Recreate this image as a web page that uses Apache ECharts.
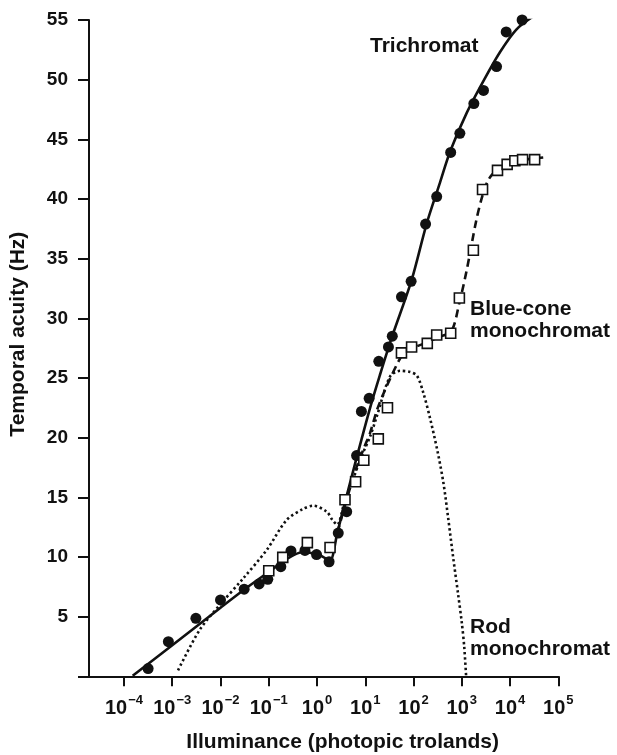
<!DOCTYPE html>
<html><head><meta charset="utf-8">
<script src="https://cdn.jsdelivr.net/npm/echarts@6/dist/echarts.min.js"></script>
<style>html,body{margin:0;padding:0;background:#fff}#c{width:617px;height:755px}</style>
</head><body><div id="c"></div>
<script>
// x values are log10(illuminance in photopic trolands)
const xTickExponents = [-4, -3, -2, -1, 0, 1, 2, 3, 4, 5];
const yTickValues = [0, 5, 10, 15, 20, 25, 30, 35, 40, 45, 50, 55];

// Trichromat data (filled circles)
const triLogL = [-3.50, -3.08, -2.51, -2.00, -1.51, -1.20, -1.02, -0.75, -0.54, -0.25, -0.01, 0.25, 0.44, 0.615, 0.82, 0.92, 1.08, 1.28, 1.48, 1.56, 1.75, 1.95, 2.25, 2.48, 2.77, 2.96, 3.25, 3.45, 3.72, 3.92, 4.25, 4.50, 4.72];
const triHz   = [0.65, 2.9, 4.86, 6.4, 7.3, 7.74, 8.13, 9.19, 10.5, 10.55, 10.2, 9.6, 12.0, 13.8, 18.5, 22.2, 23.3, 26.4, 27.6, 28.5, 31.8, 33.1, 37.9, 40.2, 43.9, 45.5, 48.0, 49.1, 51.1, 54.0, 55.0, 55.4, 55.7];

// Blue-cone monochromat data (open squares)
const blueLogL = [-1.00, -0.71, -0.20, 0.27, 0.58, 0.80, 0.97, 1.27, 1.46, 1.75, 1.96, 2.285, 2.48, 2.77, 2.95, 3.24, 3.43, 3.74, 3.94, 4.10, 4.26, 4.51];
const blueHz   = [8.85, 9.97, 11.2, 10.8, 14.8, 16.3, 18.1, 19.9, 22.5, 27.1, 27.6, 27.9, 28.6, 28.75, 31.7, 35.7, 40.8, 42.4, 42.9, 43.2, 43.3, 43.3];

// Trichromat curve (solid)
const triCurveLogL = [-3.82, -3.0, -2.0, -1.5, -1.0, -0.6, -0.3, 0.0, 0.15, 0.27, 0.42, 0.6, 0.82, 1.1, 1.3, 1.55, 1.96, 2.27, 2.55, 2.76, 3.1, 3.45, 3.79, 4.13, 4.48, 4.76];
const triCurveHz   = [0.05, 2.6, 5.75, 7.3, 8.75, 9.9, 10.4, 10.25, 9.95, 9.7, 12.0, 14.9, 18.3, 22.5, 25.2, 28.4, 33.2, 37.9, 41.4, 44.0, 47.2, 49.9, 52.3, 54.2, 55.3, 55.85];

// Blue-cone monochromat curve (dashed)
const blueCurveLogL = [0.42, 0.6, 0.8, 0.99, 1.1, 1.25, 1.4, 1.51, 1.69, 1.8, 1.96, 2.3, 2.5, 2.78, 2.95, 3.1, 3.3, 3.43, 3.55, 3.74, 4.0, 4.3, 4.76];
const blueCurveHz   = [12.0, 14.6, 17.3, 19.3, 20.4, 22.4, 23.9, 24.9, 26.4, 27.1, 27.5, 28.0, 28.4, 28.9, 31.3, 34.0, 38.2, 40.3, 41.6, 42.5, 43.0, 43.3, 43.5];

// Rod monochromat curve (dotted)
const rodCurveLogL = [-2.88, -2.43, -2.01, -1.53, -1.04, -0.63, -0.3, -0.08, 0.2, 0.32, 0.42, 0.55, 0.72, 0.92, 1.1, 1.24, 1.51, 1.72, 1.93, 2.07, 2.2, 2.35, 2.5, 2.62, 2.72, 2.82, 2.92, 3.0, 3.05, 3.09];
const rodCurveHz   = [0.5, 3.9, 6.0, 8.2, 10.6, 13.1, 14.0, 14.3, 13.8, 13.1, 12.7, 14.3, 16.2, 18.4, 20.1, 21.8, 25.1, 25.6, 25.5, 25.2, 23.8, 21.5, 18.8, 16.2, 13.2, 10.0, 7.0, 4.5, 2.5, 0.0];

const zip = (a, b) => a.map((v, i) => [v, b[i]]);
const FONT = '"Liberation Sans", Arial, Helvetica, sans-serif';
const BLACK = '#111';

const chart = echarts.init(document.getElementById('c'), null, { renderer: 'canvas' });
chart.setOption({
  animation: false,
  backgroundColor: '#fff',
  grid: { left: 89, right: 58.7, top: 20, bottom: 78.7, containLabel: false, outerBoundsMode: 'none' },
  xAxis: {
    type: 'value', min: -4.725, max: 5,
    name: 'Illuminance (photopic trolands)', nameLocation: 'middle', nameGap: 55,
    nameTextStyle: { fontFamily: FONT, fontWeight: 'bold', fontSize: 21, color: BLACK, padding: [0, 0, 0, 38] },
    axisLine: { show: true, onZero: false, lineStyle: { color: BLACK, width: 2 } },
    axisTick: { show: true, inside: false, length: 10, customValues: xTickExponents, lineStyle: { color: BLACK, width: 2 } },
    axisLabel: {
      show: true, margin: 18, customValues: xTickExponents,
      formatter: v => '{b|10}{s|' + String(v).replace('-', '\u2212') + '}',
      rich: {
        b: { fontFamily: FONT, fontWeight: 'bold', fontSize: 20, color: BLACK, lineHeight: 24, verticalAlign: 'bottom' },
        s: { fontFamily: FONT, fontWeight: 'bold', fontSize: 13, color: BLACK, lineHeight: 24, verticalAlign: 'top', padding: [0, 0, 0, 1] }
      }
    },
    splitLine: { show: false }
  },
  yAxis: {
    type: 'value', min: 0, max: 55, interval: 5,
    name: 'Temporal acuity (Hz)', nameLocation: 'middle', nameGap: 60, nameRotate: 90,
    nameTextStyle: { fontFamily: FONT, fontWeight: 'bold', fontSize: 21, color: BLACK, padding: [0, 0, 0, 28] },
    axisLine: { show: true, onZero: false, lineStyle: { color: BLACK, width: 2 } },
    axisTick: { show: true, inside: false, length: 11, lineStyle: { color: BLACK, width: 2 } },
    axisLabel: {
      margin: 21, fontFamily: FONT, fontWeight: 'bold', fontSize: 19, color: BLACK,
      formatter: v => (v === 0 ? '' : String(v))
    },
    splitLine: { show: false }
  },
  graphic: [
    { type: 'text', left: 370, top: 36, style: { text: 'Trichromat', font: 'bold 21px ' + FONT, fill: BLACK } },
    { type: 'text', left: 470, top: 298, style: { text: 'Blue-cone\nmonochromat', font: 'bold 21px ' + FONT, fill: BLACK, lineHeight: 22 } },
    { type: 'text', left: 470, top: 616, style: { text: 'Rod\nmonochromat', font: 'bold 21px ' + FONT, fill: BLACK, lineHeight: 22 } }
  ],
  series: [
    { name: 'Rod monochromat curve', type: 'line', data: zip(rodCurveLogL, rodCurveHz), smooth: 0.3, symbol: 'none',
      lineStyle: { color: BLACK, width: 2.6, type: [2.4, 2.8] }, z: 2 },
    { name: 'Trichromat curve', type: 'line', data: zip(triCurveLogL, triCurveHz), smooth: 0.3, symbol: 'none',
      lineStyle: { color: BLACK, width: 2.6 }, z: 3 },
    { name: 'Blue-cone curve', type: 'line', data: zip(blueCurveLogL, blueCurveHz), smooth: 0.3, symbol: 'none',
      lineStyle: { color: BLACK, width: 2.6, type: [8, 5] }, z: 3 },
    { name: 'Trichromat', type: 'scatter', data: zip(triLogL, triHz), symbol: 'circle', symbolSize: 11,
      itemStyle: { color: BLACK, borderWidth: 0, opacity: 1 }, z: 4 },
    { name: 'Blue-cone monochromat', type: 'scatter', data: zip(blueLogL, blueHz), symbol: 'rect', symbolSize: 10,
      itemStyle: { color: '#fff', borderColor: BLACK, borderWidth: 1.6, opacity: 1 }, z: 5 }
  ]
});
</script>
</body></html>
